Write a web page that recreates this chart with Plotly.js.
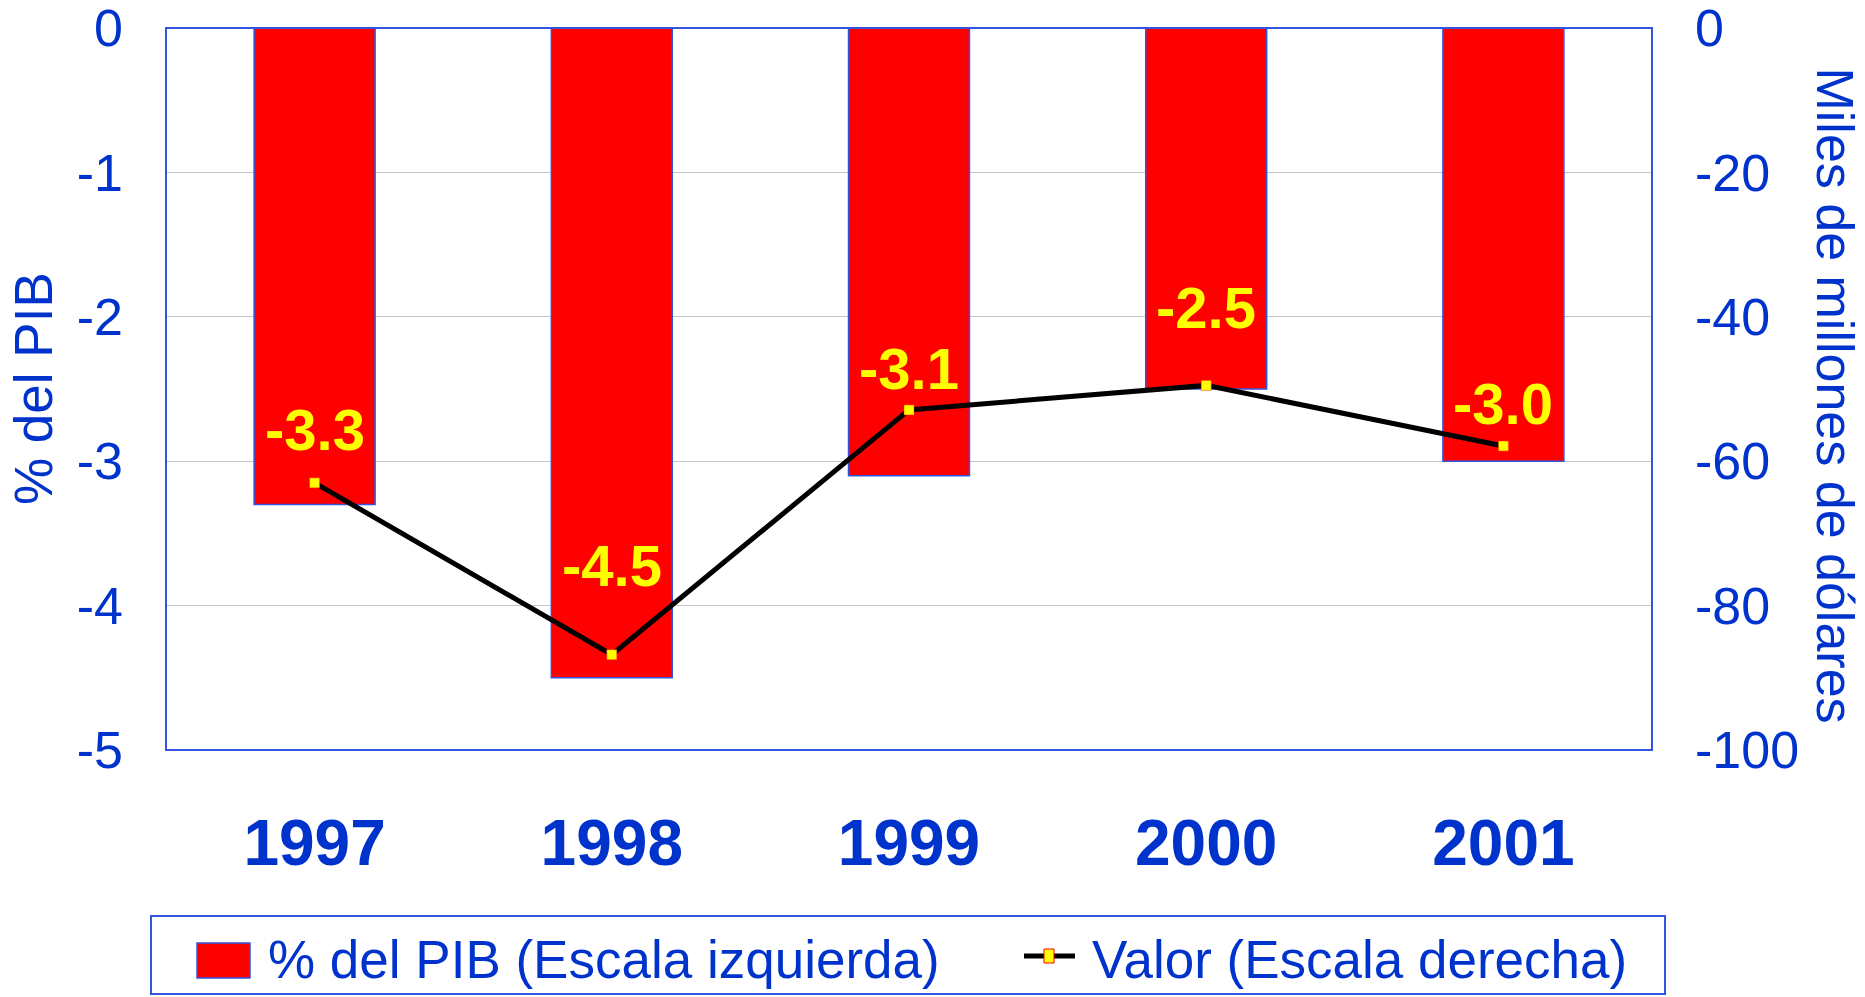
<!DOCTYPE html>
<html>
<head>
<meta charset="utf-8">
<script src="https://cdn.plot.ly/plotly-3.0.1.min.js"></script>
<style>html,body{margin:0;padding:0;background:#fff;}#chart{width:1865px;height:997px;}</style>
</head>
<body>
<div id="chart"></div>
<script>
// ---- data ----
const years = ['1997', '1998', '1999', '2000', '2001'];
const pctPIB = [-3.3, -4.5, -3.1, -2.5, -3.0];          // left axis
const valorMM = [-63.0, -86.8, -52.9, -49.5, -57.9];    // right axis
const leftTicks = [0, -1, -2, -3, -4, -5];
const rightTicks = [0, -20, -40, -60, -80, -100];
const barName = '% del PIB (Escala izquierda)';
const lineName = 'Valor (Escala derecha)';
const leftTitle = '% del PIB';
const rightTitle = 'Miles de millones de dólares';

// ---- styles ----
const BLUE = '#0033CC';
const FRAME = '#3355DD';
const FONT = 'Liberation Sans, Arial, sans-serif';
const labelOffsets = [53, 89, 41, 78, 43];

const bars = {
  type: 'bar', x: years, y: pctPIB, name: barName, yaxis: 'y',
  width: 0.407,
  marker: {color: '#FF0000', line: {color: FRAME, width: 1.5}},
  hoverinfo: 'x+y'
};
const line = {
  type: 'scatter', mode: 'lines+markers', x: years, y: valorMM, name: lineName, yaxis: 'y2',
  line: {color: '#000000', width: 5},
  marker: {symbol: 'square', size: 10, color: '#FFFF00', line: {color: '#FF3300', width: 0.5}}
};

const annotations = years.map((yr, i) => ({
  x: i, y: valorMM[i], xref: 'x', yref: 'y2', yshift: labelOffsets[i],
  text: pctPIB[i].toFixed(1), showarrow: false,
  font: {family: FONT, size: 58, color: '#FFFF00', weight: 'bold'},
  xanchor: 'center', yanchor: 'middle'
}));
annotations.push({
  xref: 'paper', yref: 'paper', x: -0.0895, y: 0.5, text: leftTitle, textangle: -90,
  showarrow: false, xanchor: 'center', yanchor: 'middle',
  font: {family: FONT, size: 53, color: BLUE}
});
annotations.push({
  xref: 'paper', yref: 'paper', x: 1.1225, y: 0.491, text: rightTitle, textangle: 90,
  showarrow: false, xanchor: 'center', yanchor: 'middle',
  font: {family: FONT, size: 52, color: BLUE}
});

const px = v => (v - 166) / 1486;
const py = v => (750 - v) / 722;
// legend texts
annotations.push({
  xref: 'paper', yref: 'paper', x: px(266), y: py(959), text: barName,
  showarrow: false, xanchor: 'left', yanchor: 'middle',
  font: {family: FONT, size: 53, color: BLUE}
});
annotations.push({
  xref: 'paper', yref: 'paper', x: px(1090), y: py(959), text: lineName,
  showarrow: false, xanchor: 'left', yanchor: 'middle',
  font: {family: FONT, size: 53, color: BLUE}
});

const shapes = [
  {type: 'rect', xref: 'paper', yref: 'paper', x0: 0, x1: 1, y0: 0, y1: 1,
   line: {color: FRAME, width: 2}, layer: 'above'},
  {type: 'rect', xref: 'paper', yref: 'paper', x0: px(151), x1: px(1665), y0: py(994), y1: py(916),
   line: {color: FRAME, width: 2}},
  {type: 'rect', xref: 'paper', yref: 'paper', x0: px(197), x1: px(250), y0: py(978), y1: py(943),
   fillcolor: '#FF0000', line: {color: FRAME, width: 1.5}},
  {type: 'line', xref: 'paper', yref: 'paper', x0: px(1024), x1: px(1075), y0: py(956), y1: py(956),
   line: {color: '#000000', width: 5}},
  {type: 'rect', xref: 'paper', yref: 'paper', x0: px(1044), x1: px(1054), y0: py(963), y1: py(949),
   fillcolor: '#FFFF00', line: {color: '#FF0000', width: 1}}
];

const layout = {
  width: 1865, height: 997,
  margin: {l: 166, r: 213, t: 28, b: 247, pad: 0},
  paper_bgcolor: '#FFFFFF', plot_bgcolor: '#FFFFFF',
  showlegend: false,
  xaxis: {
    type: 'category', categoryorder: 'array', categoryarray: years,
    range: [-0.5, years.length - 0.5], autorange: false,
    showgrid: false, zeroline: false, ticks: '', showline: false,
    tickfont: {family: FONT, size: 64, color: BLUE, weight: 'bold'},
    ticklabelstandoff: 50
  },
  yaxis: {
    range: [-5, 0], autorange: false, tickvals: leftTicks, ticktext: leftTicks.map(String),
    showgrid: true, gridcolor: '#C4C4C4', gridwidth: 1, zeroline: false,
    ticks: '', showline: false, ticklabeloverflow: 'allow',
    tickfont: {family: FONT, size: 52, color: BLUE},
    ticklabelstandoff: 42
  },
  yaxis2: {
    overlaying: 'y', side: 'right', range: [-100, 0], autorange: false,
    tickvals: rightTicks, ticktext: rightTicks.map(String),
    showgrid: false, zeroline: false, ticks: '', showline: false, ticklabeloverflow: 'allow',
    tickfont: {family: FONT, size: 52, color: BLUE},
    ticklabelstandoff: 42
  },
  annotations: annotations,
  shapes: shapes
};

Plotly.newPlot('chart', [bars, line], layout, {staticPlot: true, displayModeBar: false});
</script>
</body>
</html>
